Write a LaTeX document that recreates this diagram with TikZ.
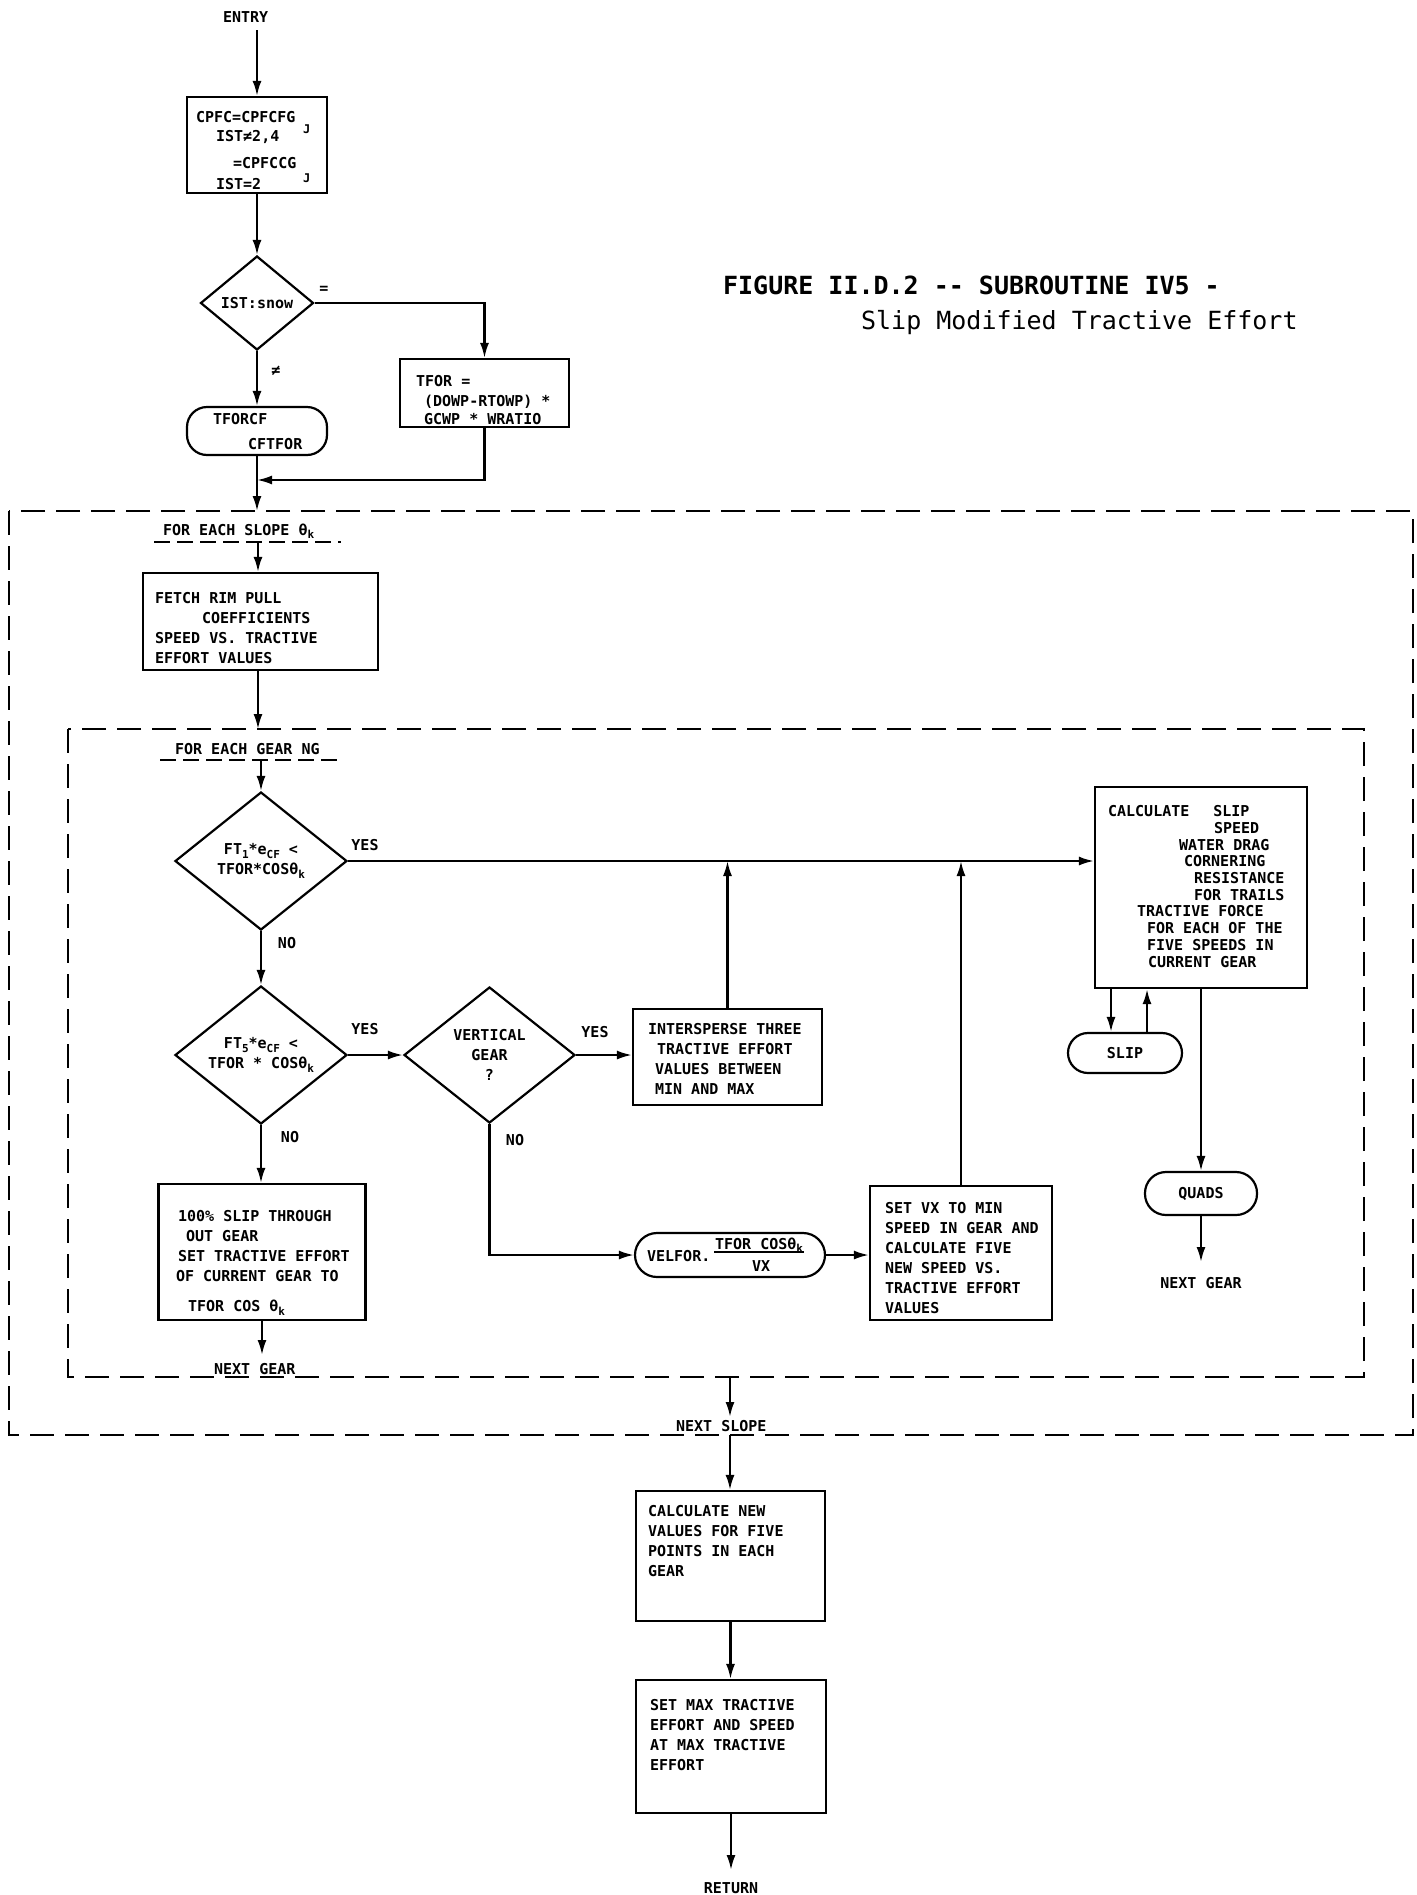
\documentclass[tikz,border=0pt]{standalone}
\usepackage{fontspec}
\newfontfamily\dia{DejaVu Sans Mono}
\usetikzlibrary{arrows.meta,shapes.geometric}
\newcommand{\lbl}{\dia\bfseries\fontsize{15}{20}\selectfont}
\newcommand{\sbs}[1]{\raisebox{-0.45ex}{\fontsize{11}{11}\selectfont #1}}
\newcommand{\ind}[1]{\hspace*{#1pt}}
\begin{document}
\begin{tikzpicture}[x=1pt,y=-1pt,
  line width=2.2pt,
  arr/.style={line width=2.2pt,-{Latex[length=15pt,width=9pt]}},
  box/.style={draw,line width=2.2pt,inner sep=0pt,rectangle},
  term/.style={draw,line width=2.2pt,inner sep=0pt,rectangle,font=\lbl},
  decision/.style={draw,diamond,line width=2.2pt,inner sep=0pt,align=center,font=\lbl},
  txt/.style={font=\lbl,inner sep=0pt,anchor=base west},
  blk/.style={font=\lbl,inner sep=0pt,anchor=north west,align=left},
  lab/.style={font=\lbl,inner sep=0pt},
  dsh/.style={line width=2.2pt,dash pattern=on 24pt off 11pt},
  udsh/.style={line width=1.8pt,dash pattern=on 16pt off 7pt}]
\useasboundingbox (0,0) rectangle (1416,1895);

% ---------- title ----------
\node[font=\dia\bfseries\fontsize{25}{30}\selectfont,inner sep=0pt,anchor=base west] (title1) at (722,294) {FIGURE II.D.2 -\kern0pt- SUBROUTINE IV5 -};
\node[font=\dia\fontsize{25}{30}\selectfont,inner sep=0pt,anchor=base west] (title2) at (860,329) {Slip Modified Tractive Effort};

% ---------- entry part ----------
\node[txt] (entry) at (222,23) {ENTRY};
\coordinate (e0) at (257,30);
\node[box,minimum width=140pt,minimum height=96pt] (b1) at (257,145) {};
\node[txt] (c1) at (195,122) {CPFC=CPFCFG};
\node[txt,font=\dia\bfseries\fontsize{12}{12}\selectfont] (c2) at (302,133) {J};
\node[txt] (c3) at (215,141) {IST≠2,4};
\node[txt] (c4) at (232,168) {=CPFCCG};
\node[txt,font=\dia\bfseries\fontsize{12}{12}\selectfont] (c5) at (302,182) {J};
\node[txt] (c6) at (215,189) {IST=2};

\node[decision,aspect=1.2,minimum width=113pt,minimum height=94pt] (d0) at (257,303) {IST:snow};
\node[lab] (eq) at (324,290) {=};
\node[lab] (neq) at (276,371) {≠};

\node[term,rounded corners=20pt,minimum width=140pt,minimum height=48pt] (t1) at (257,431) {};
\node[txt] (t1a) at (212,424) {TFORCF};
\node[txt] (t1b) at (247,449) {CFTFOR};

\node[box,minimum width=169pt,minimum height=68pt] (b2) at (484.5,393) {};
\node[txt] (b2a) at (415,386) {TFOR =};
\node[txt] (b2b) at (423,406) {(DOWP-RTOWP) *};
\node[txt] (b2c) at (423,424) {GCWP * WRATIO};

\coordinate (m0) at (257,480);
\coordinate (o0) at (257,511);

\draw[arr] (e0) -- (b1.north);
\draw[arr] (b1.south) -- (d0.north);
\draw[arr] (d0.south) -- (t1.north);
\draw[arr] (d0.east) -| (b2.north);
\draw[arr] (b2.south) |- (m0);
\draw[arr] (t1.south) -- (o0);

% ---------- outer loop ----------
\draw[dsh] (9,511) rectangle (1413,1435);
\node[txt] (slope) at (162,535) {FOR EACH SLOPE θ\sbs{k}};
\coordinate (su0) at (154,542);
\coordinate (su1) at (341,542);
\draw[udsh] (su0) -- (su1);
\coordinate (s1) at (258,542);

\node[box,minimum width=235pt,minimum height=97pt] (fetch) at (260.5,621.5) {};
\node[blk] (fetcht) at (154,591.5) {FETCH RIM PULL\\\ind{47}COEFFICIENTS\\SPEED VS. TRACTIVE\\EFFORT VALUES};
\draw[arr] (s1) -- (s1 |- fetch.north);
\coordinate (i0) at (258,729);
\draw[arr] (i0 |- fetch.south) -- (i0);

% ---------- inner loop ----------
\draw[dsh] (68,729) rectangle (1364,1377);
\node[txt] (gear) at (174,754) {FOR EACH GEAR NG};
\coordinate (gu0) at (160,760);
\coordinate (gu1) at (344,760);
\draw[udsh] (gu0) -- (gu1);
\coordinate (g1) at (261,760);

\node[decision,aspect=1.25,minimum width=172pt,minimum height=138pt] (d1) at (261,861) {FT\sbs{1}*e\sbs{CF} <\\TFOR*COSθ\sbs{k}};
\node[decision,aspect=1.25,minimum width=172pt,minimum height=138pt] (d2) at (261,1055) {FT\sbs{5}*e\sbs{CF} <\\TFOR * COSθ\sbs{k}};
\node[decision,aspect=1.25,minimum width=171pt,minimum height=136pt] (d3) at (489.5,1055) {VERTICAL\\GEAR\\?};

\node[box,minimum width=189pt,minimum height=96pt] (inter) at (727.5,1057) {};
\node[blk] (intert) at (647,1022.5) {INTERSPERSE THREE\\\ind{9}TRACTIVE EFFORT\\\ind{7}VALUES BETWEEN\\\ind{7}MIN  AND  MAX};

\node[box,minimum width=212pt,minimum height=201pt] (calc) at (1201,887.5) {};
\node[blk,font=\dia\bfseries\fontsize{15}{16.7}\selectfont] (calct) at (1107,804.5) {CALCULATE\ind{24}SLIP\\\ind{106}SPEED\\\ind{71}WATER DRAG\\\ind{76}CORNERING\\\ind{86}RESISTANCE\\\ind{86}FOR TRAILS\\\ind{29}TRACTIVE FORCE\\\ind{39}FOR EACH OF THE\\\ind{39}FIVE SPEEDS IN\\\ind{40}CURRENT GEAR};

\node[term,rounded corners=20pt,minimum width=114pt,minimum height=40pt] (slip) at (1125,1053) {SLIP};
\node[term,rounded corners=21pt,minimum width=112pt,minimum height=43pt] (quads) at (1201,1193.5) {QUADS};

\node[box,minimum width=207pt,minimum height=136pt] (pct) at (262,1252) {};
\node[blk] (pctt) at (175,1209.5) {\ind{2}100\% SLIP THROUGH\\\ind{10}OUT GEAR\\\ind{2}SET TRACTIVE EFFORT\\OF CURRENT GEAR TO\\[10pt]\ind{12}TFOR COS θ\sbs{k}};

\node[term,rounded corners=22pt,minimum width=190pt,minimum height=44pt] (vel) at (730,1255) {};
\node[txt] (vela) at (646,1261) {VELFOR.};
\node[txt] (veln) at (714,1249) {TFOR COSθ\sbs{k}};
\node[txt] (veld) at (751,1271) {VX};
\draw[line width=1.6pt] ([yshift=2pt]veln.south west) -- ([yshift=2pt]veln.south east);

\node[box,minimum width=182pt,minimum height=134pt] (setvx) at (961,1253) {};
\node[blk] (setvxt) at (884,1201.5) {SET VX TO MIN\\SPEED IN GEAR AND\\CALCULATE FIVE\\NEW SPEED VS.\\TRACTIVE EFFORT\\VALUES};

% labels
\node[lab] (yes1) at (365,845) {YES};
\node[lab] (no1) at (287,943) {NO};
\node[lab] (yes2) at (365,1029) {YES};
\node[lab] (yes3) at (595,1032) {YES};
\node[lab] (no2) at (290,1137) {NO};
\node[lab] (no3) at (515,1140) {NO};

% connectors inner
\draw[arr] (g1) -- (d1.north);
\draw[arr] (d1.east) -- (d1.east -| calc.west);
\draw[arr] (d1.south) -- (d2.north);
\draw[arr] (d2.east) -- (d3.west);
\draw[arr] (d3.east) -- (d3.east -| inter.west);
\draw[arr] (d2.south) -- (d2.south |- pct.north);
\draw[arr] (d3.south) |- (vel.west);
\draw[arr] (vel.east) -- (vel.east -| setvx.west);
\draw[arr] (inter.north) -- (inter.north |- d1.east);
\draw[arr] (setvx.north) -- (setvx.north |- d1.east);
\draw[arr] ([xshift=-14pt]slip.north |- calc.south) -- ([xshift=-14pt]slip.north);
\draw[arr] ([xshift=22pt]slip.north) -- ([xshift=22pt]slip.north |- calc.south);
\draw[arr] (calc.south) -- (quads.north);
\coordinate (ng2) at (1201,1262);
\draw[arr] (quads.south) -- (ng2);
\node[lab] (nextg2) at (1201,1283) {NEXT GEAR};
\coordinate (ng1) at (262,1355);
\draw[arr] (pct.south) -- (ng1);
\node[txt] (nextg1) at (213,1374) {NEXT GEAR};

% ---------- after loops ----------
\coordinate (ns0) at (730,1377);
\coordinate (ns1) at (730,1417);
\draw[arr] (ns0) -- (ns1);
\node[txt] (nexts) at (675,1431) {NEXT SLOPE};
\coordinate (ns2) at (730,1435);

\node[box,minimum width=189pt,minimum height=130pt] (cnew) at (730.5,1556) {};
\node[blk] (cnewt) at (647,1504.5) {CALCULATE NEW\\VALUES FOR FIVE\\POINTS IN EACH\\GEAR};
\node[box,minimum width=190pt,minimum height=133pt] (smax) at (731,1746.5) {};
\node[blk] (smaxt) at (649,1698.5) {SET MAX TRACTIVE\\EFFORT AND SPEED\\AT MAX TRACTIVE\\EFFORT};

\draw[arr] (ns2) -- (ns2 |- cnew.north);
\draw[arr] (cnew.south) -- (cnew.south |- smax.north);
\coordinate (ret0) at (731,1870);
\draw[arr] (smax.south) -- (ret0);
\node[lab] (ret) at (731,1888) {RETURN};
\end{tikzpicture}
\end{document}
